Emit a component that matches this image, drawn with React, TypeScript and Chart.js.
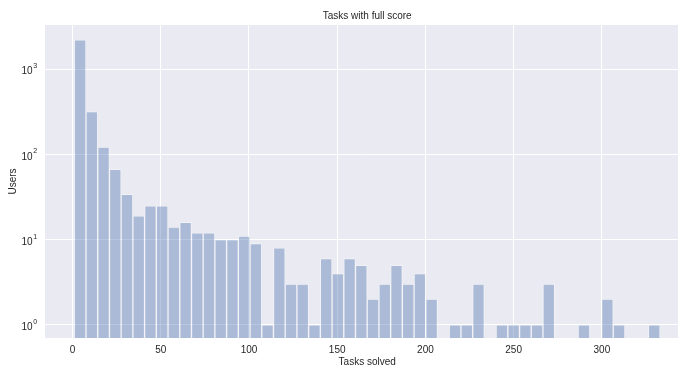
import React, { useEffect, useRef } from 'react';
import { Chart, registerables } from 'chart.js';

Chart.register(...registerables);

// Histogram bins: first bin starts at binStart, each bin is binWidth wide
const binStart = 1;
const binWidth = 6.64;
const userCounts: (number | null)[] = [
  2210, 318, 122, 67, 34, 19, 25, 25, 14, 16,
  12, 12, 10, 10, 11, 9, 1, 8, 3, 3,
  1, 6, 4, 6, 5, 2, 3, 5, 3, 4,
  2, null, 1, 1, 3, null, 1, 1, 1, 1,
  3, null, null, 1, null, 2, 1, null, null, 1,
];
const xTickValues = [0, 50, 100, 150, 200, 250, 300];
const yTickValues = [1, 10, 100, 1000];
const yTickExponents = ['0', '1', '2', '3'];
const chartTitle = 'Tasks with full score';
const xTitle = 'Tasks solved';
const yTitle = 'Users';

const FONT = '"Liberation Sans", Arial, Helvetica, sans-serif';
const TEXT = '#262626';

const bgPlugin = {
  id: 'bgAndLogLabels',
  beforeDraw(chart: any) {
    const { ctx, chartArea: a } = chart;
    ctx.save();
    ctx.fillStyle = '#EAEAF2';
    ctx.fillRect(a.left, a.top, a.right - a.left, a.bottom - a.top);
    ctx.restore();
  },
  afterDraw(chart: any) {
    const { ctx } = chart;
    const y = chart.scales.y;
    ctx.save();
    ctx.fillStyle = TEXT;
    yTickValues.forEach((v, i) => {
      const py = y.getPixelForValue(v);
      ctx.font = `10px ${FONT}`;
      ctx.textAlign = 'right';
      ctx.textBaseline = 'alphabetic';
      ctx.fillText('10', 32.6, py + 5.2);
      ctx.font = `7px ${FONT}`;
      ctx.textAlign = 'left';
      ctx.fillText(yTickExponents[i], 33.2, py - 1);
    });
    ctx.restore();
  },
};

export default function App() {
  const ref = useRef<HTMLCanvasElement | null>(null);

  useEffect(() => {
    if (!ref.current) return;
    const data = userCounts.map((c, i) => ({
      x: binStart + (i + 0.5) * binWidth,
      y: c,
    }));
    const chart = new Chart(ref.current, {
      type: 'bar',
      data: {
        datasets: [
          {
            data: data as any,
            backgroundColor: 'rgba(76,114,176,0.4)',
            borderColor: 'rgba(255,255,255,0.35)',
            borderWidth: 1,
            categoryPercentage: 1,
            barPercentage: 1,
          },
        ],
      },
      options: {
        responsive: false,
        animation: false,
        layout: { padding: { left: 0, top: 0, right: 10.6, bottom: 0 } },
        plugins: {
          legend: { display: false },
          tooltip: { enabled: false },
          title: {
            display: true,
            text: chartTitle,
            fullSize: false,
            color: TEXT,
            font: { family: FONT, size: 10, weight: 'normal', lineHeight: 1.2 },
            padding: { top: 10, bottom: 3 },
          },
        },
        scales: {
          x: {
            type: 'linear',
            min: -15.6,
            max: 349.6,
            offset: false,
            afterBuildTicks: (s: any) => {
              s.ticks = xTickValues.map((v) => ({ value: v }));
            },
            afterFit: (s: any) => {
              s.height = 29;
            },
            grid: { color: '#FFFFFF', lineWidth: 1, drawTicks: false, offset: false },
            border: { display: false },
            ticks: {
              color: TEXT,
              font: { family: FONT, size: 10, lineHeight: 1.2 },
              padding: 6,
              maxRotation: 0,
              autoSkip: false,
            },
            title: {
              display: true,
              text: xTitle,
              color: TEXT,
              font: { family: FONT, size: 10, lineHeight: 0.9 },
              padding: { top: 0, bottom: 0 },
            },
          },
          y: {
            type: 'logarithmic',
            min: 0.7,
            max: 3311,
            afterBuildTicks: (s: any) => {
              s.ticks = yTickValues.map((v) => ({ value: v }));
            },
            afterFit: (s: any) => {
              s.width = 45;
            },
            grid: { color: '#FFFFFF', lineWidth: 1, drawTicks: false },
            border: { display: false },
            ticks: { display: false },
            title: {
              display: true,
              text: yTitle,
              color: TEXT,
              font: { family: FONT, size: 10, lineHeight: 1.2 },
              padding: { top: 7, bottom: 0 },
            },
          },
        },
      },
      plugins: [bgPlugin],
    });
    return () => chart.destroy();
  }, []);

  return (
    <div
      style={{
        position: 'fixed',
        left: 0,
        top: 0,
        width: 678,
        height: 367,
        overflow: 'hidden',
        background: '#FFFFFF',
      }}
    >
      <canvas ref={ref} width={700} height={367} style={{ display: 'block' }} />
    </div>
  );
}
